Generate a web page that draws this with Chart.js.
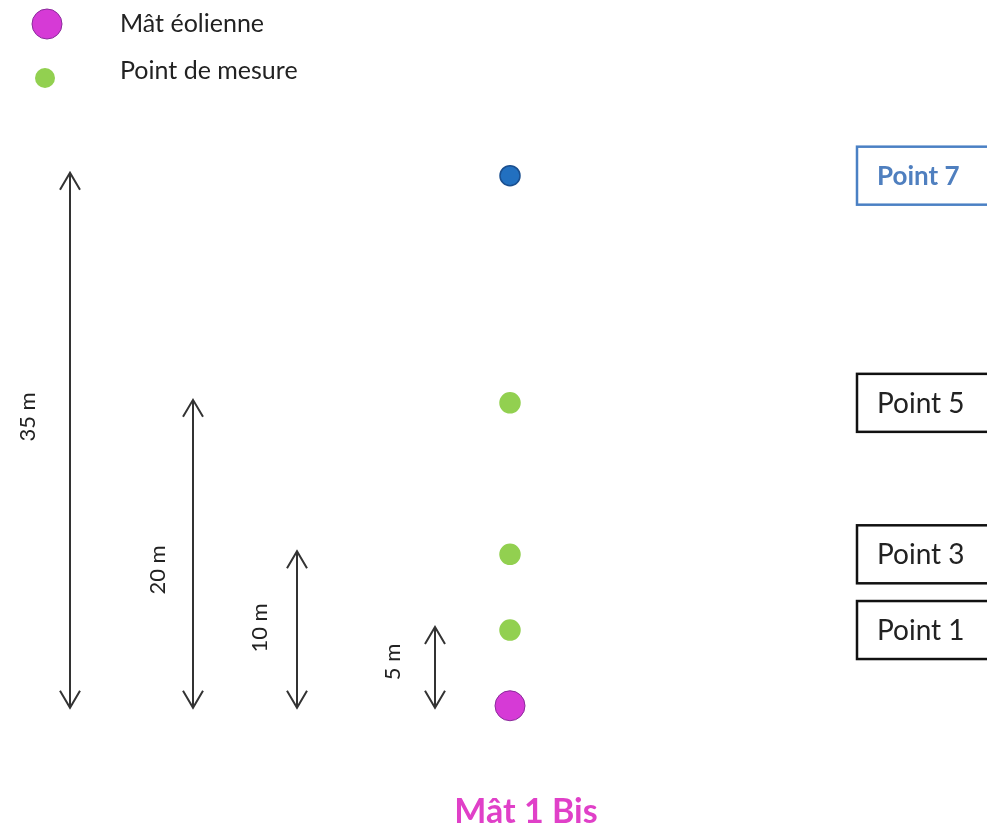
<!DOCTYPE html>
<html>
<head>
<meta charset="utf-8">
<script src="https://cdn.jsdelivr.net/npm/chart.js@4"></script>
<style>
  body{margin:0;background:#fff;}
  #wrap{width:987px;height:836px;position:relative;}
</style>
</head>
<body>
<div id="wrap"><canvas id="chart" width="987" height="836"></canvas></div>
<script>
// measurement points above the mast (metres)
const pointLabels = ["Point 1", "Point 3", "Point 5", "Point 7"];
const pointHeights = [5, 10, 20, 35];
const pointColors = ["#92d050", "#92d050", "#92d050", "#2270c0"];
const pointBorders = ["#92d050", "#92d050", "#92d050", "#1a4f8f"];

const mastHeight = [0];
const mastName = "Mât 1 Bis";

// distance arrows
const arrowLabels = ["35 m", "20 m", "10 m", "5 m"];
const arrowLengths = [35, 20, 10, 5];

const legendLabels = ["Mât éolienne", "Point de mesure"];

const FONT = "Lato, 'Open Sans', sans-serif";

const overlay = {
  id: "overlay",
  afterDatasetsDraw(chart){
    const c = chart.ctx;
    const y = chart.scales.y;
    c.save();

    // arrows
    const arrowX = [70, 193, 297, 435];
    const labelX = [28, 158, 260, 393];
    const labelY = [417, 570, 628, 662];
    c.strokeStyle = "#333";
    c.lineWidth = 2;
    arrowLengths.forEach((len, i) => {
      const x = arrowX[i];
      const top = y.getPixelForValue(len) - 3;
      const bot = y.getPixelForValue(0) + 2;
      c.beginPath();
      c.moveTo(x, top); c.lineTo(x, bot);
      c.moveTo(x - 10, top + 17); c.lineTo(x, top); c.lineTo(x + 10, top + 17);
      c.moveTo(x - 10, bot - 17); c.lineTo(x, bot); c.lineTo(x + 10, bot - 17);
      c.stroke();

      c.save();
      c.translate(labelX[i], labelY[i]);
      c.rotate(-Math.PI / 2);
      c.fillStyle = "#222";
      c.font = "22px " + FONT;
      c.textAlign = "center";
      c.textBaseline = "middle";
      c.fillText(arrowLabels[i], 0, 0);
      c.restore();
    });

    // point boxes
    pointLabels.forEach((lab, i) => {
      const cy = y.getPixelForValue(pointHeights[i]);
      const blue = i === pointLabels.length - 1;
      c.strokeStyle = blue ? "#4a80c4" : "#111";
      c.lineWidth = 2.5;
      c.strokeRect(857, cy - 29, 150, 58);
      c.fillStyle = blue ? "#4f7fbf" : "#222";
      c.font = (blue ? "bold 26px " : "28px ") + FONT;
      c.textAlign = "left";
      c.textBaseline = "middle";
      c.fillText(lab, 877, cy + 1);
    });

    // legend
    c.fillStyle = "#d63ad6";
    c.strokeStyle = "#8a2a9a";
    c.lineWidth = 1;
    c.beginPath(); c.arc(47, 24, 15, 0, Math.PI * 2); c.fill(); c.stroke();
    c.fillStyle = "#92d050";
    c.beginPath(); c.arc(45, 78, 10, 0, Math.PI * 2); c.fill();
    c.fillStyle = "#222";
    c.font = "25px " + FONT;
    c.textAlign = "left";
    c.textBaseline = "middle";
    c.fillText(legendLabels[0], 120, 24);
    c.fillText(legendLabels[1], 120, 71);

    // mast name
    c.fillStyle = "#e040c8";
    c.font = "bold 34px " + FONT;
    c.textAlign = "center";
    c.fillText(mastName, 526, 812);

    c.restore();
  }
};

new Chart(document.getElementById("chart"), {
  type: "scatter",
  data: {
    datasets: [
      {
        label: legendLabels[1],
        data: pointHeights.map(h => ({x: 0, y: h})),
        backgroundColor: pointColors,
        borderColor: pointBorders,
        borderWidth: 1.5,
        pointRadius: 10
      },
      {
        label: legendLabels[0],
        data: mastHeight.map(h => ({x: 0, y: h})),
        backgroundColor: "#d63ad6",
        borderColor: "#8a2a9a",
        borderWidth: 1,
        pointRadius: 15
      }
    ]
  },
  plugins: [overlay],
  options: {
    responsive: false,
    animation: false,
    layout: {padding: 0, autoPadding: false},
    plugins: {legend: {display: false}, tooltip: {enabled: false}},
    scales: {
      x: {type: "linear", display: false, min: -510, max: 477},
      y: {type: "linear", display: false, min: -8.6, max: 46.6}
    }
  }
});
</script>
</body>
</html>
